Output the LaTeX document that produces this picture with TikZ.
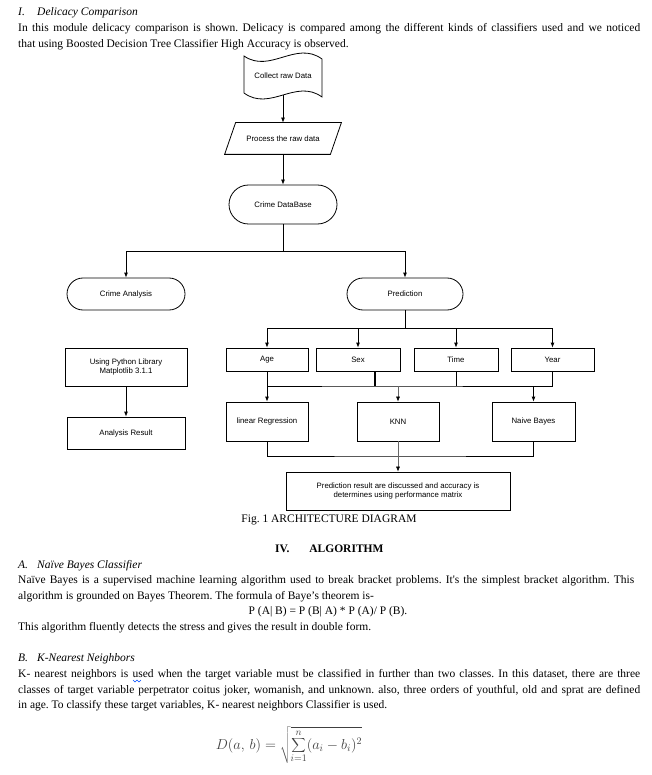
\documentclass[tikz,border=0pt]{standalone}
\usepackage{fontspec}
\setmainfont{Liberation Serif}
\newfontfamily\diagfont{Liberation Sans}
\usetikzlibrary{arrows.meta,shapes.misc}
\frenchspacing
\begin{document}
\begin{tikzpicture}[x=1pt,y=-1pt,
  body/.style={anchor=base west,inner sep=0pt,font=\fontsize{11.5}{14}\selectfont},
  ctext/.style={anchor=base,inner sep=0pt,font=\fontsize{11.5}{14}\selectfont},
  shp/.style={line width=0.8pt,inner sep=0pt,align=center,font=\diagfont\fontsize{7.8}{9}\selectfont},
  boxn/.style={shp,draw,rectangle},
  pill/.style={shp,draw,rounded rectangle},
  ghost/.style={shp,rectangle},
  conn/.style={line width=0.8pt},
  arr/.style={line width=0.8pt,-{Latex[length=5pt,width=4pt]}},
  thinarr/.style={line width=0.5pt,black!60,-{Latex[length=5pt,width=4pt,color=black]}}
]
\path[use as bounding box] (0,0) rectangle (652,775);

% ---------- header text ----------
\node[body] (h1) at (18,15.5) {\textit{\makebox[19pt][l]{I.}Delicacy Comparison}};
\node[body] (p1a) at (18,31.5) {\makebox[622pt][s]{In this module delicacy comparison is shown. Delicacy is compared among the different kinds of classifiers used and we noticed}};
\node[body] (p1b) at (18,47.5) {that using Boosted Decision Tree Classifier High Accuracy is observed.};

% ---------- diagram ----------
\node[ghost,minimum width=78pt,minimum height=44pt] (raw) at (283,76) {Collect raw Data};
\draw[conn] (244,56) .. controls (270,74) and (296,40) .. (322,59) -- (322,97)
  .. controls (296,78) and (270,112) .. (244,93) -- cycle;
\coordinate (rawb) at (283,95);

\node[ghost,minimum width=116pt,minimum height=31pt] (proc) at (283,138.5) {Process the raw data};
\draw[conn] ([xshift=11pt]proc.north west) -- (proc.north east) -- ([xshift=-11pt]proc.south east) -- (proc.south west) -- cycle;

\node[pill,minimum width=108pt,minimum height=39pt] (db) at (283,204.5) {Crime DataBase};

\node[pill,minimum width=118pt,minimum height=32pt] (ca) at (126,294) {Crime Analysis};
\node[pill,minimum width=116pt,minimum height=32pt] (pred) at (405,294) {Prediction};

\node[boxn,minimum width=122pt,minimum height=38pt] (py) at (126,367) {Using Python Library\\[-0.5pt]Matplotlib 3.1.1};
\node[boxn,minimum width=82pt,minimum height=23pt] (age) at (267,359.5) {Age};
\node[boxn,minimum width=84pt,minimum height=23pt] (sex) at (358,359.5) {Sex};
\node[boxn,minimum width=84pt,minimum height=23pt] (time) at (456,359.5) {Time};
\node[boxn,minimum width=83pt,minimum height=23pt] (year) at (552.5,359.5) {Year};

\node[boxn,minimum width=82pt,minimum height=39pt] (lr) at (267,421.5) {linear Regression};
\node[boxn,minimum width=82pt,minimum height=39pt] (knn) at (398,421.5) {KNN};
\node[boxn,minimum width=83pt,minimum height=39pt] (nb) at (533.5,421.5) {Naive Bayes};
\node[boxn,minimum width=118pt,minimum height=32pt] (ar) at (126,433) {Analysis Result};

\node[boxn,minimum width=224pt,minimum height=38pt] (res) at (398,491) {Prediction result are discussed and accuracy is\\[-0.5pt]determines using performance matrix};

\draw[arr] (rawb) -- (proc.north);
\draw[arr] (proc.south) -- (db.north);
\coordinate (split) at (283,251);
\draw[conn] (db.south) -- (split);
\draw[arr] (split) -| (ca.north);
\draw[arr] (split) -| (pred.north);

\coordinate (p2) at (405,328);
\draw[conn] (pred.south) -- (p2);
\draw[arr] (p2) -| (age.north);
\draw[arr] (p2) -| (sex.north);
\draw[arr] (p2) -| (time.north);
\draw[arr] (p2) -| (year.north);

\coordinate (m) at (375,386);
\draw[conn] (age.south) |- (m) -| (year.south);
\draw[line width=1.1pt] ([xshift=17pt]sex.south) -- ([xshift=17pt]sex.south |- m);
\draw[conn] (time.south) -- (time.south |- m);
\draw[arr] (age.south |- m) -- (lr.north);
\draw[thinarr] (knn.north |- m) -- (knn.north);
\draw[arr] (nb.north |- m) -- (nb.north);

\draw[arr] (py.south) -- (ar.north);

\coordinate (b) at (400,456);
\draw[conn] (lr.south) |- (b) -| (nb.south);
\draw[thinarr] (knn.south) -- (res.north);

\node[ctext] (cap) at (329,522.5) {Fig. 1 ARCHITECTURE DIAGRAM};

% ---------- section IV ----------
\node[body] (sec) at (275,552.5) {\textbf{IV.\hspace{20pt}ALGORITHM}};
\node[body] (ha) at (18,568.5) {\textit{\makebox[19pt][l]{A.}Naïve Bayes Classifier}};
\node[body] (a1) at (18,583.5) {\makebox[616pt][s]{Naïve Bayes is a supervised machine learning algorithm used to break bracket problems. It\textquotesingle s the simplest bracket algorithm. This}};
\node[body] (a2) at (18,599.5) {algorithm is grounded on Bayes Theorem. The formula of Baye’s theorem is-};
\node[ctext] (bay) at (328,614.5) {P (A| B) = P (B| A) * P (A)/ P (B).};
\node[body] (a3) at (18,630.5) {This algorithm fluently detects the stress and gives the result in double form.};

\node[body] (hb) at (18,661.5) {\textit{\makebox[19pt][l]{B.}K-Nearest Neighbors}};
\node[body] (b1) at (18,677.5) {\makebox[622pt][s]{K- nearest neighbors is used when the target variable must be classified in further than two classes. In this dataset, there are three}};
\node[body] (b2) at (18,693.5) {\makebox[622pt][s]{classes of target variable perpetrator coitus joker, womanish, and unknown. also, three orders of youthful, old and sprat are defined}};
\node[body] (b3) at (18,708.5) {in age. To classify these target variables, K- nearest neighbors Classifier is used.};
\draw[blue!70!cyan,line width=0.5pt] (133,680) -- (135,682) -- (137,680) -- (139,682) -- (141,680);

\node[inner sep=0pt,text=black!75,font=\fontsize{14}{16}\selectfont] (form) at (289,745) {$\displaystyle D(a,\,b)=\sqrt{\sum_{i=1}^{n}(a_i-b_i)^2}$};
\end{tikzpicture}
\end{document}
